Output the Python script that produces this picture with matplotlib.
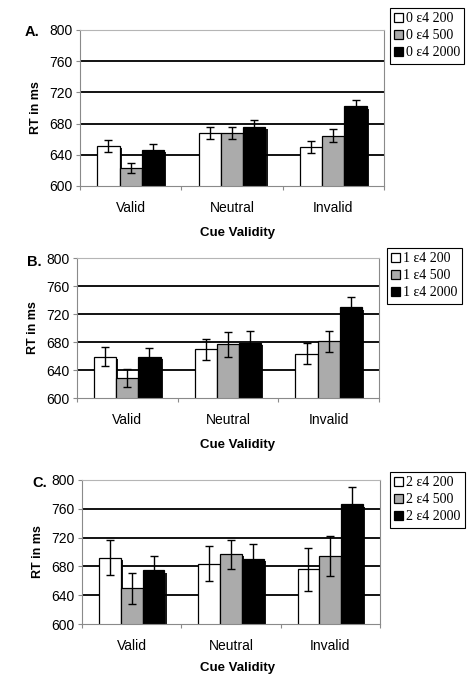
import matplotlib
matplotlib.use("Agg")
import matplotlib.pyplot as plt
import matplotlib.patheffects as pe
import numpy as np

categories = ["Valid", "Neutral", "Invalid"]
yticks = [600, 640, 680, 720, 760, 800]
panel_letters = ["A.", "B.", "C."]

labels_A = ["0 ε4 200", "0 ε4 500", "0 ε4 2000"]
means_A = [[651.5, 668, 650], [623.5, 668, 664.5], [646, 676, 702]]
err_A = [[7.5, 7.5, 8], [6.5, 8, 8], [7.5, 8, 8]]

labels_B = ["1 ε4 200", "1 ε4 500", "1 ε4 2000"]
means_B = [[659, 669.5, 663.5], [628.5, 676.5, 681], [658.5, 678.5, 729.5]]
err_B = [[14, 15, 15], [13, 18, 15], [13, 17, 15]]

labels_C = ["2 ε4 200", "2 ε4 500", "2 ε4 2000"]
means_C = [[692, 684, 676], [649.5, 697, 694], [674.5, 690.5, 766]]
err_C = [[24, 24, 30], [22, 20, 28], [20, 21, 24]]

colors = ["white", "#ababab", "black"]

fig = plt.figure(figsize=(4.76, 6.84), dpi=100)

panels = [
    dict(rect=[80/476, 1-186/684, 304/476, 156/684], labels=labels_A, means=means_A, err=err_A,
         letter_xy=(25/476, 1-32/684), leg_xy=(390/476, 1-8/684),
         xl_y=1-233/684),
    dict(rect=[77/476, 1-398/684, 302/476, 140/684], labels=labels_B, means=means_B, err=err_B,
         letter_xy=(27/476, 1-262/684), leg_xy=(387/476, 1-248/684),
         xl_y=1-445/684),
    dict(rect=[82/476, 1-624/684, 298/476, 144/684], labels=labels_C, means=means_C, err=err_C,
         letter_xy=(32/476, 1-483/684), leg_xy=(390/476, 1-472/684),
         xl_y=1-668/684),
]

spine_col = "#8a8a8a"
bw = 0.22
x = np.arange(len(categories))
shadow = [pe.SimplePatchShadow(offset=(1.6, -1.6), shadow_rgbFace="black", alpha=0.9), pe.Normal()]

for i, p in enumerate(panels):
    ax = fig.add_axes(p["rect"])
    handles = []
    for s in range(3):
        bars = ax.bar(x + (s - 1) * bw, p["means"][s], width=bw, bottom=0,
                      color=colors[s], edgecolor="black", linewidth=0.9, zorder=2,
                      yerr=p["err"][s], capsize=3,
                      error_kw=dict(ecolor="black", elinewidth=1.0, capthick=1.0, zorder=4))
        for b in bars:
            b.set_path_effects(shadow)
        handles.append(bars)
    ax.set_ylim(yticks[0], yticks[-1])
    ax.set_xlim(-0.5, len(categories) - 0.5)
    for v in yticks[1:-1]:
        ax.axhline(v, color="black", lw=1.3, zorder=1)
    ax.set_yticks(yticks)
    ax.set_yticklabels([str(v) for v in yticks], fontsize=10, family="Liberation Sans")
    ax.tick_params(axis="y", length=3, width=0.8, color=spine_col, pad=2.5)
    ax.set_xticks(np.arange(len(categories) + 1) - 0.5)
    ax.set_xticklabels([])
    ax.tick_params(axis="x", which="major", length=3, width=0.8, color=spine_col, direction="out")
    ax.set_xticks(x, minor=True)
    ax.set_xticklabels(categories, minor=True, fontsize=10, family="Liberation Sans")
    ax.tick_params(axis="x", which="minor", length=0, pad=10.5)
    for sp in ax.spines.values():
        sp.set_color(spine_col)
        sp.set_linewidth(0.8)
    ax.spines["top"].set_color("#b5b5b5")
    ax.set_ylabel("RT in ms", fontsize=9, family="Liberation Sans", fontweight="bold", labelpad=5)
    ax.set_xlabel("Cue Validity", fontsize=9.5, family="Liberation Sans", fontweight="bold")
    ax.xaxis.label.set_va("center")
    ax.xaxis.set_label_coords(0.5, p["xl_y"], transform=fig.transFigure)
    fig.text(p["letter_xy"][0], p["letter_xy"][1], panel_letters[i], fontsize=10.5,
             fontweight="bold", family="Liberation Sans", va="center", ha="left")
    leg = ax.legend(handles, p["labels"], loc="upper left", bbox_to_anchor=p["leg_xy"],
                    bbox_transform=fig.transFigure, frameon=True, fancybox=False,
                    prop=dict(family="Liberation Serif", size=10), handlelength=0.6,
                    handleheight=0.6, handletextpad=0.25, labelspacing=0.3,
                    borderpad=0.3, borderaxespad=0, framealpha=1)
    leg.get_frame().set_edgecolor("black")
    leg.get_frame().set_linewidth(0.8)
    for h in leg.legend_handles:
        h.set_path_effects([])

fig.savefig("out.png", dpi=100)
